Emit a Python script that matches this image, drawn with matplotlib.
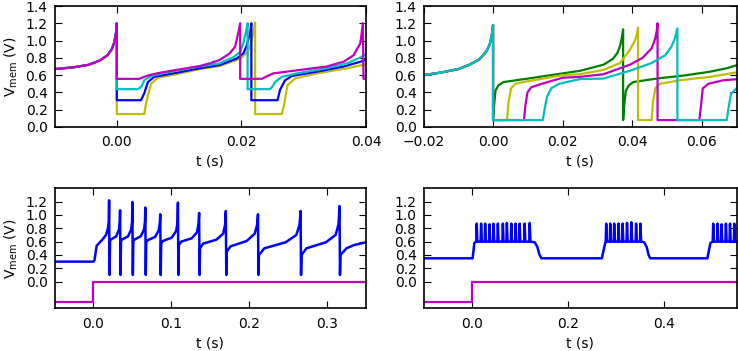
import matplotlib
matplotlib.use('Agg')
import matplotlib.pyplot as plt

# ---- top left: reset-level comparison (xlim -0.01..0.04) ----
tl_pre_t = [-0.01, -0.007, -0.0045, -0.0027, -0.0015, -0.0008, -0.0004, -0.0001, 0.0]
tl_pre_v = [0.67, 0.69, 0.72, 0.77, 0.83, 0.90, 0.98, 1.10, 1.20]

tl_m_t = [0.0, 0.0036, 0.0044, 0.0052, 0.0069, 0.0095, 0.0133, 0.0149, 0.0165, 0.0181, 0.0190, 0.0195, 0.0198,
          0.0198, 0.0233, 0.0242, 0.0251, 0.0294, 0.0337, 0.0364, 0.0380, 0.0391, 0.0395,
          0.0396, 0.0402]
tl_m_v = [0.557, 0.557, 0.58, 0.60, 0.627, 0.66, 0.705, 0.736, 0.775, 0.85, 0.93, 1.09, 1.20,
          0.557, 0.557, 0.59, 0.62, 0.66, 0.70, 0.755, 0.83, 0.97, 1.20,
          0.557, 0.557]
tl_c_t = [0.0, 0.0034, 0.0040, 0.0044, 0.0055, 0.0080, 0.0133, 0.0165, 0.0188, 0.0198, 0.0203, 0.0208, 0.0210,
          0.0210, 0.0246, 0.0250, 0.0254, 0.0265, 0.0289, 0.0337, 0.0370, 0.0391, 0.0402]
tl_c_v = [0.438, 0.438, 0.47, 0.54, 0.59, 0.63, 0.70, 0.736, 0.81, 0.87, 0.97, 1.12, 1.20,
          0.438, 0.438, 0.47, 0.52, 0.58, 0.62, 0.68, 0.736, 0.805, 0.85]
tl_b_t = [0.0, 0.0039, 0.0044, 0.0050, 0.0060, 0.0090, 0.0133, 0.0165, 0.0192, 0.0203, 0.0208, 0.0214, 0.0216,
          0.0216, 0.0258, 0.0262, 0.0270, 0.0281, 0.0321, 0.0364, 0.0391, 0.0402]
tl_b_v = [0.31, 0.31, 0.39, 0.52, 0.58, 0.62, 0.68, 0.717, 0.79, 0.85, 0.93, 1.09, 1.20,
          0.31, 0.31, 0.43, 0.54, 0.59, 0.64, 0.70, 0.755, 0.785]
tl_y_t = [0.0, 0.0044, 0.0048, 0.0055, 0.0066, 0.0095, 0.0133, 0.0165, 0.0198, 0.0209, 0.0214, 0.0219, 0.0222,
          0.0222, 0.0265, 0.0269, 0.0274, 0.0286, 0.0321, 0.0370, 0.0402]
tl_y_v = [0.15, 0.15, 0.31, 0.50, 0.57, 0.61, 0.67, 0.705, 0.79, 0.86, 0.93, 1.09, 1.21,
          0.15, 0.15, 0.275, 0.485, 0.56, 0.62, 0.68, 0.73]

# ---- top right: refractory comparison (xlim -0.02..0.07) ----
tr_pre_t = [-0.02, -0.015, -0.01, -0.0068, -0.004, -0.002, -0.001, -0.0004, 0.0]
tr_pre_v = [0.60, 0.63, 0.67, 0.72, 0.78, 0.87, 0.95, 1.05, 1.18]

tr_g_t = [0.0, 0.0003, 0.0007, 0.0015, 0.003, 0.010, 0.020, 0.025, 0.0317, 0.0345, 0.0358, 0.0366, 0.0371, 0.0374,
          0.0374, 0.0377, 0.0382, 0.0390, 0.0403, 0.047, 0.0557, 0.0624, 0.0672, 0.0705]
tr_g_v = [0.08, 0.25, 0.42, 0.48, 0.52, 0.56, 0.62, 0.65, 0.72, 0.79, 0.86, 0.95, 1.05, 1.13,
          0.08, 0.25, 0.42, 0.48, 0.52, 0.56, 0.60, 0.64, 0.68, 0.72]
tr_y_t = [0.0, 0.0040, 0.0045, 0.0052, 0.0065, 0.010, 0.020, 0.0249, 0.0317, 0.0365, 0.0393, 0.0408, 0.0414, 0.0417,
          0.0417, 0.0456, 0.0460, 0.0467, 0.0480, 0.0537, 0.0624, 0.0705]
tr_y_v = [0.08, 0.08, 0.30, 0.45, 0.50, 0.53, 0.60, 0.61, 0.66, 0.74, 0.89, 1.00, 1.08, 1.15,
          0.08, 0.08, 0.30, 0.45, 0.50, 0.54, 0.58, 0.635]
tr_m_t = [0.0, 0.0089, 0.0093, 0.0099, 0.0110, 0.014, 0.020, 0.0249, 0.0317, 0.0393, 0.0430, 0.0456, 0.0466, 0.0471, 0.0473,
          0.0473, 0.0593, 0.0598, 0.0603, 0.0619, 0.0662, 0.0705]
tr_m_v = [0.08, 0.08, 0.25, 0.40, 0.46, 0.50, 0.57, 0.58, 0.61, 0.72, 0.80, 0.91, 1.02, 1.12, 1.20,
          0.08, 0.08, 0.25, 0.446, 0.50, 0.54, 0.555]
tr_c_t = [0.0, 0.0143, 0.0148, 0.0155, 0.0168, 0.0190, 0.0249, 0.0317, 0.0393, 0.0456, 0.0495, 0.0513, 0.0523, 0.0530,
          0.0530, 0.0672, 0.0677, 0.0684, 0.0705]
tr_c_v = [0.08, 0.08, 0.20, 0.35, 0.45, 0.50, 0.554, 0.56, 0.65, 0.74, 0.83, 0.93, 1.03, 1.14,
          0.08, 0.08, 0.22, 0.38, 0.47]

# ---- bottom left: tonic spiking after step input ----
bl_onset_t = [-0.05, 0.0, 0.0013, 0.0042, 0.0107, 0.0162, 0.0186, 0.0197]
bl_onset_v = [0.30, 0.30, 0.32, 0.54, 0.62, 0.70, 0.80, 0.90]
bl_spk_t = [0.0201, 0.0342, 0.050, 0.0666, 0.0858, 0.1085, 0.1357, 0.170, 0.2113, 0.266, 0.316]
bl_spk_v = [1.22, 1.07, 1.195, 1.11, 1.01, 1.185, 1.03, 1.06, 1.01, 1.06, 1.135]
bl_trough = 0.10
bl_land = [0.60, 0.60, 0.60, 0.59, 0.57, 0.55, 0.50, 0.45, 0.40, 0.40]
bl_knee = [0.63, 0.63, 0.63, 0.62, 0.61, 0.60, 0.57, 0.53, 0.50, 0.50]
bl_mid = [0.68, 0.68, 0.68, 0.67, 0.66, 0.65, 0.63, 0.61, 0.59, 0.59]
bl_pre = [0.78, 0.78, 0.78, 0.77, 0.76, 0.74, 0.72, 0.72, 0.70, 0.70]
bl_rise = [0.90, 0.90, 0.90, 0.89, 0.88, 0.87, 0.86, 0.86, 0.85, 0.86]
bl_tail_t = [0.3172, 0.325, 0.335, 0.35]
bl_tail_v = [0.40, 0.50, 0.55, 0.59]

# ---- bottom right: bursting ----
br_base = 0.35
br_plateau = 0.60
br_on_t = [0.0020, 0.2704, 0.4895]
br_up_t = [0.0056, 0.2773, 0.4958]
br_spk_t = [[0.0105, 0.0196, 0.028, 0.037, 0.0454, 0.0544, 0.0648, 0.0731, 0.0823, 0.0913, 0.0997, 0.110, 0.1206],
            [0.2794, 0.2878, 0.296, 0.305, 0.3135, 0.3226, 0.3317, 0.3415, 0.3505],
            [0.5016, 0.5107, 0.519, 0.528, 0.5365, 0.5455]]
br_spk_v = [[0.87, 0.87, 0.87, 0.86, 0.87, 0.87, 0.87, 0.88, 0.87, 0.87, 0.87, 0.87, 0.88],
            [0.87, 0.87, 0.87, 0.87, 0.87, 0.88, 0.89, 0.87, 0.87],
            [0.87, 0.87, 0.86, 0.87, 0.87, 0.87]]
br_off_t = [[0.131, 0.1365, 0.141, 0.145], [0.3583, 0.3635, 0.3675, 0.3708]]
br_off_v = [0.59, 0.52, 0.40, 0.35]

# input step (magenta) in bottom panels
step_low = -0.3
step_high = 0.0

plt.rcParams.update({
    'font.size': 10,
    'xtick.direction': 'in', 'ytick.direction': 'in',
    'xtick.top': True, 'ytick.right': True,
    'xtick.major.size': 5, 'ytick.major.size': 5,
    'xtick.major.pad': 6, 'ytick.major.pad': 5,
    'axes.linewidth': 1.2,
    'mathtext.default': 'regular',
})

W, H = 738.0, 351.0
fig = plt.figure(figsize=(7.38, 3.51), dpi=100)
ax_tl = fig.add_axes([54.5 / W, 1 - 127 / H, 311.5 / W, 121 / H])
ax_tr = fig.add_axes([423.5 / W, 1 - 127 / H, 313 / W, 121 / H])
ax_bl = fig.add_axes([54.5 / W, 1 - 308.3 / H, 311.5 / W, 120 / H])
ax_br = fig.add_axes([423.5 / W, 1 - 308.3 / H, 313 / W, 120 / H])

lw = 1.6

# top left
for t, v, col in [(tl_y_t, tl_y_v, 'y'), (tl_b_t, tl_b_v, 'b'),
                  (tl_c_t, tl_c_v, 'c'), (tl_m_t, tl_m_v, 'm')]:
    ax_tl.plot(tl_pre_t + t, tl_pre_v + v, color=col, lw=lw)
ax_tl.set_xlim(-0.01, 0.04)
ax_tl.set_ylim(0, 1.4)
ax_tl.set_xticks([0.0, 0.02, 0.04])

# top right
for t, v, col in [(tr_g_t, tr_g_v, 'g'), (tr_y_t, tr_y_v, 'y'),
                  (tr_m_t, tr_m_v, 'm'), (tr_c_t, tr_c_v, 'c')]:
    ax_tr.plot(tr_pre_t + t, tr_pre_v + v, color=col, lw=lw)
ax_tr.set_xlim(-0.02, 0.07)
ax_tr.set_ylim(0, 1.4)
ax_tr.set_xticks([-0.02, 0.0, 0.02, 0.04, 0.06])

for ax in (ax_tl, ax_tr):
    ax.set_yticks([0.0, 0.2, 0.4, 0.6, 0.8, 1.0, 1.2, 1.4])

# bottom left trace
t_bl = list(bl_onset_t)
v_bl = list(bl_onset_v)
for i, ts in enumerate(bl_spk_t):
    t_bl += [ts, ts + 0.0006]
    v_bl += [bl_spk_v[i], bl_trough]
    if i < len(bl_land):
        isi = bl_spk_t[i + 1] - ts
        t_bl += [ts + 0.0012, ts + 0.15 * isi, ts + 0.65 * isi, ts + 0.90 * isi, ts + 0.975 * isi]
        v_bl += [bl_land[i], bl_knee[i], bl_mid[i], bl_pre[i], bl_rise[i]]
t_bl += bl_tail_t
v_bl += bl_tail_v
ax_bl.plot(t_bl, v_bl, color='b', lw=lw + 0.2)
ax_bl.plot([-0.05, 0.0, 0.0, 0.35], [step_low, step_low, step_high, step_high], color='m', lw=lw)
ax_bl.set_xlim(-0.05, 0.35)
ax_bl.set_xticks([0.0, 0.1, 0.2, 0.3])

# bottom right trace
t_br = [-0.1]
v_br = [br_base]
for k in range(len(br_on_t)):
    t_br += [br_on_t[k], br_up_t[k]]
    v_br += [br_base, br_plateau - 0.02]
    for ts, pk in zip(br_spk_t[k], br_spk_v[k]):
        t_br += [ts - 0.001, ts, ts + 0.0015]
        v_br += [br_plateau, pk, br_plateau]
    if k < len(br_off_t):
        t_br += br_off_t[k]
        v_br += br_off_v
t_br += [0.55]
v_br += [br_plateau]
ax_br.plot(t_br, v_br, color='b', lw=lw + 0.2)
ax_br.plot([-0.1, 0.0, 0.0, 0.55], [step_low, step_low, step_high, step_high], color='m', lw=lw)
ax_br.set_xlim(-0.1, 0.55)
ax_br.set_xticks([0.0, 0.2, 0.4])

for ax in (ax_bl, ax_br):
    ax.set_ylim(-0.4, 1.4)
    ax.set_yticks([0.0, 0.2, 0.4, 0.6, 0.8, 1.0, 1.2])

for ax in (ax_tl, ax_tr, ax_bl, ax_br):
    ax.set_xlabel('t (s)')
for ax in (ax_tl, ax_bl):
    ax.set_ylabel('V$_{mem}$ (V)')

fig.savefig('out.png', dpi=100)
